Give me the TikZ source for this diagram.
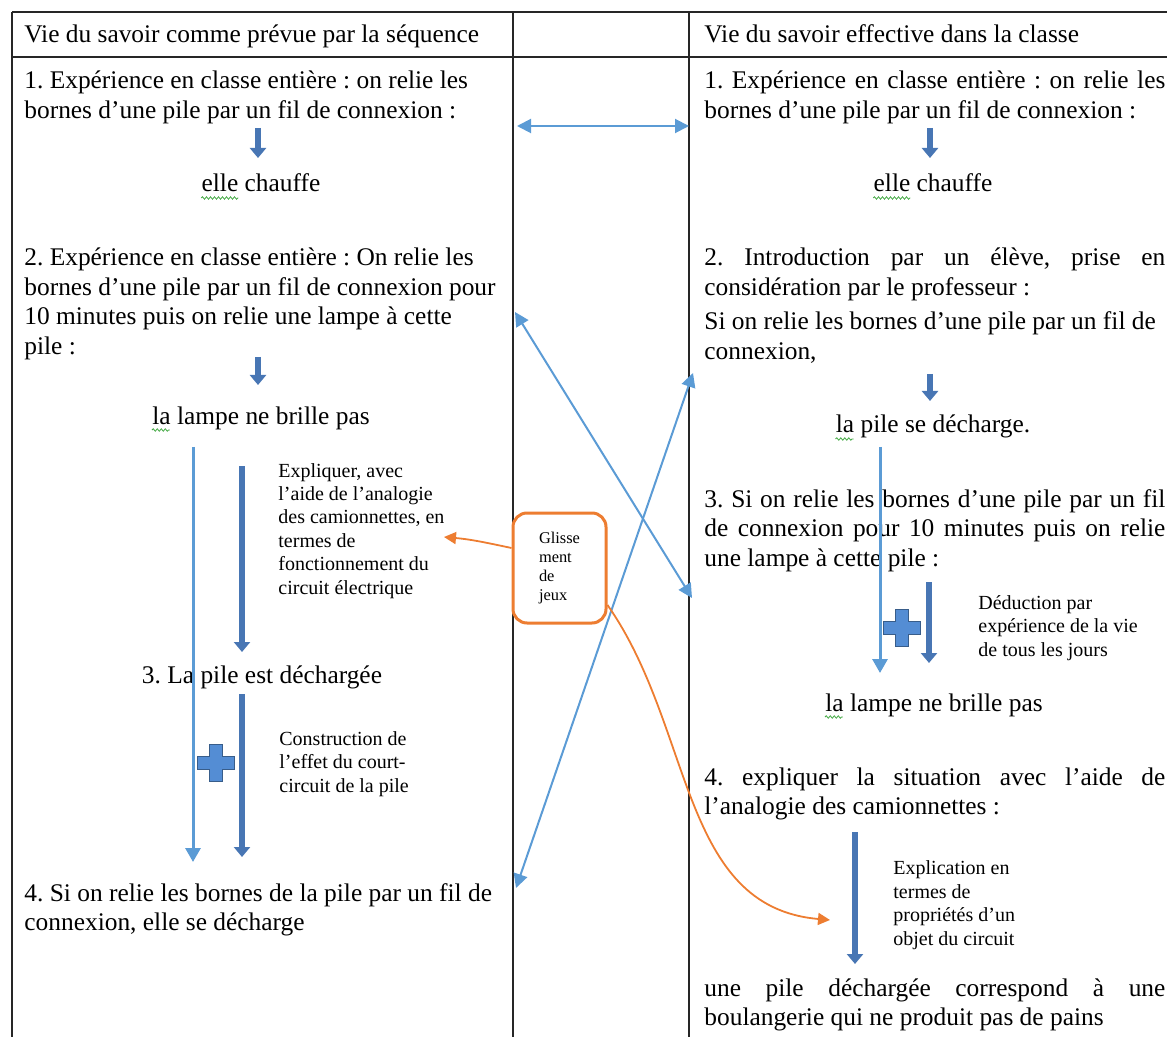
\documentclass[tikz,border=0pt]{standalone}
\usepackage{fontspec}
\setmainfont{Liberation Serif}
\frenchspacing
\usetikzlibrary{arrows.meta,calc,decorations.pathmorphing}
\definecolor{bleuclair}{RGB}{91,155,213}
\definecolor{bleufonce}{RGB}{72,118,180}
\definecolor{bordbleu}{RGB}{56,93,138}
\definecolor{bleucroix}{RGB}{84,141,212}
\definecolor{orangeg}{RGB}{237,125,49}
\definecolor{vertonde}{RGB}{70,170,70}
\newcommand{\just}[1]{\makebox[230.5pt][s]{#1}}
\tikzset{
  % ancre sur la ligne de base de la derniere ligne
  texte/.style={anchor=base west,inner sep=0pt,align=left,font=\fontsize{12.7}{14.75}\selectfont},
  centre/.style={anchor=base,inner sep=0pt,font=\fontsize{12.7}{14.75}\selectfont},
  petit/.style={anchor=base west,inner sep=0pt,align=left,font=\fontsize{10}{11.7}\selectfont},
  cadre/.style={line width=0.75pt,black!85},
  lien/.style={bleuclair,line width=1pt,{Triangle[length=7pt,width=7pt]}-{Triangle[length=7pt,width=7pt]}},
  fleche/.style={bleufonce,line width=3.2pt,-{Triangle[length=5pt,width=8pt]}},
  longue/.style={bleuclair,line width=1.5pt,-{Triangle[length=7pt,width=7.5pt]}},
  orangefl/.style={orangeg,line width=0.9pt,-{Triangle[length=6pt,width=6pt]}},
  glisse/.style={draw=orangeg,fill=white,line width=1.5pt,rounded corners=7pt,minimum width=46.5pt,minimum height=55pt,inner sep=0pt,align=left,font=\fontsize{8.2}{9.5}\selectfont},
  croix/.style={fill=bleucroix,draw=bordbleu,line width=0.8pt},
  ondule/.style={vertonde,line width=0.4pt,decorate,decoration={snake,segment length=2pt,amplitude=0.6pt}}
}
\begin{document}
\begin{tikzpicture}[x=0.5pt,y=-0.5pt]
 \useasboundingbox (0,0) rectangle (1167,1037);
 % le tableau
 \draw[cadre] (12,12) -- (1167,12) (12,57) -- (1167,57);
 \draw[cadre] (12,12) -- (12,1037) (513,12) -- (513,1037) (689,12) -- (689,1037);
 \node[texte] (titreG) at (24,43) {Vie du savoir comme prévue par la séquence};
 \node[texte] (titreD) at (704,43) {Vie du savoir effective dans la classe};
 % colonne de gauche
 \node[texte] (g1) at (24,118.5) {1. Expérience en classe entière : on relie les\\bornes d’une pile par un fil de connexion :};
 \node[centre] (g1r) at (261,192) {elle chauffe};
 \node[texte] (g2) at (24,354.5) {2. Expérience en classe entière : On relie les\\bornes d’une pile par un fil de connexion pour\\10 minutes puis on relie une lampe à cette\\pile :};
 \node[centre] (g2r) at (261,424) {la lampe ne brille pas};
 \node[petit] (g2e) at (278,594) {Expliquer, avec\\l’aide de l’analogie\\des camionnettes, en\\termes de\\fonctionnement du\\circuit électrique};
 \node[centre] (g3) at (262,683) {3. La pile est déchargée};
 \node[petit] (g3e) at (279,792) {Construction de\\l’effet du court-\\circuit de la pile};
 \node[texte] (g4) at (24,930.5) {4. Si on relie les bornes de la pile par un fil de\\connexion, elle se décharge};
 % colonne de droite
 \node[texte] (d1) at (704,118.5) {\just{1. Expérience en classe entière : on relie les}\\bornes d’une pile par un fil de connexion :};
 \node[centre] (d1r) at (933,192) {elle chauffe};
 \node[texte] (d2) at (704,295.5) {\just{2. Introduction par un élève, prise en}\\considération par le professeur :};
 \node[texte] (d2b) at (704,359.5) {Si on relie les bornes d’une pile par un fil de\\connexion,};
 \node[centre] (d2r) at (933,433) {la pile se décharge.};
 \node[texte] (d3) at (704,566) {\just{3. Si on relie les bornes d’une pile par un fil}\\\just{de connexion pour 10 minutes puis on relie}\\une lampe à cette pile :};
 \node[petit] (d3e) at (978,656) {Déduction par\\expérience de la vie\\de tous les jours};
 \node[centre] (d3r) at (934,711) {la lampe ne brille pas};
 \node[texte] (d4) at (704,814.5) {\just{4. expliquer la situation avec l’aide de}\\l’analogie des camionnettes :};
 \node[petit] (d4e) at (893,945) {Explication en\\termes de\\propriétés d’un\\objet du circuit};
 \node[texte] (d4r) at (704,1025.5) {\just{une pile déchargée correspond à une}\\boulangerie qui ne produit pas de pains};
 % soulignements
 \draw[ondule] ($(g1r.base west)+(0,6)$) -- ++(37,0);
 \draw[ondule] ($(d1r.base west)+(0,6)$) -- ++(37,0);
 \draw[ondule] ($(g2r.base west)+(0,6)$) -- ++(18,0);
 \draw[ondule] ($(d2r.base west)+(0,6)$) -- ++(18,0);
 \draw[ondule] ($(d3r.base west)+(0,6)$) -- ++(18,0);
 % fleches verticales
 \draw[fleche] (258,128) -- (258,158);
 \draw[fleche] (258,357) -- (258,385);
 \draw[fleche] (930,128) -- (930,158);
 \draw[fleche] (930,374) -- (930,401);
 \draw[longue] (193,447) -- (193,862);
 \draw[fleche] (242,466) -- (242,652);
 \draw[fleche] (242,694) -- (242,857);
 \draw[longue] (880,447) -- (880,673);
 \draw[fleche] (929,582) -- (929,663);
 \draw[fleche] (855,832) -- (855,964);
 \foreach \cx/\cy in {216/763,902/628}
  \draw[croix,shift={(\cx,\cy)}] (-6.5,-18.5) -- (6.5,-18.5) -- (6.5,-6.5) -- (18.5,-6.5) -- (18.5,6.5) -- (6.5,6.5) -- (6.5,18.5) -- (-6.5,18.5) -- (-6.5,6.5) -- (-18.5,6.5) -- (-18.5,-6.5) -- (-6.5,-6.5) -- cycle;
 % liens entre les colonnes
 \coordinate (a1) at (517,126);
 \coordinate (a2) at (689,126);
 \coordinate (b1) at (515,312);
 \coordinate (b2) at (692,598);
 \coordinate (c1) at (516,888);
 \coordinate (c2) at (693,373);
 \draw[lien] (a1) -- (a2);
 \draw[lien] (b1) -- (b2);
 \draw[lien] (c1) -- (c2);
 % glissement
 \node[glisse] (glis) at (559.5,568) {Glisse\\ment\\de\\jeux};
 \coordinate (versExp) at (444,537);
 \coordinate (versObj) at (830,920);
 \draw[orangefl] ($(glis.west)+(0,-20)$) to[out=168,in=-5] (versExp);
 \draw[orangefl] ($(glis.east)+(0,37)$) to[out=-55,in=175] (versObj);
\end{tikzpicture}
\end{document}
